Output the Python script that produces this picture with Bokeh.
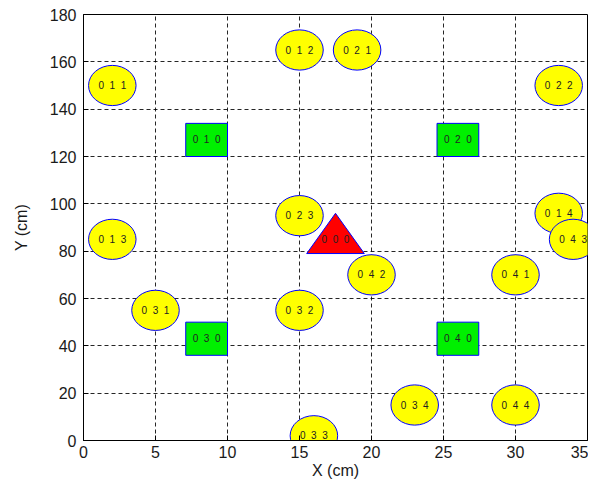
from bokeh.plotting import figure
from bokeh.models import FixedTicker
from bokeh.core.properties import value
from bokeh.embed import file_html
from bokeh.resources import INLINE

# ---- data ----
ell_names = ["011", "012", "013", "014", "021", "022", "023", "031",
             "032", "033", "034", "041", "042", "043", "044"]
ell_x = [2, 15, 2, 33, 19, 33, 15, 5, 15, 16, 23, 30, 20, 34, 30]
ell_y = [150, 165, 85, 96, 165, 150, 95, 55, 55, 2, 15, 70, 70, 85, 15]

sq_names = ["010", "020", "030", "040"]
sq_x = [8.55, 26, 8.55, 26]
sq_y = [127, 127, 43, 43]

tri_names = ["000"]
tri_x = [17.5]
tri_y = [85]

x_ticks = [0, 5, 10, 15, 20, 25, 30, 35]
y_ticks = [0, 20, 40, 60, 80, 100, 120, 140, 160, 180]

FONT = "Liberation Sans"
TXT = "#1a1a1a"

# layout (pixels)
W, H = 588, 481
LEFT, RIGHT, TOP, BOTTOM = 83, 1, 14, 40


def spaced(s):
    return "\u00a0\u00a0".join(list(s))


p = figure(width=W, height=H, output_backend="svg", toolbar_location=None,
           x_range=(0, 35), y_range=(0, 180),
           min_border_left=LEFT, min_border_right=RIGHT, min_border_top=TOP,
           min_border_bottom=BOTTOM)
p.background_fill_color = "white"
p.border_fill_color = "white"
p.outline_line_color = "black"
p.outline_line_width = 1

p.xaxis.ticker = FixedTicker(ticks=x_ticks)
p.yaxis.ticker = FixedTicker(ticks=y_ticks)
p.xaxis.minor_tick_line_color = None
p.yaxis.minor_tick_line_color = None
for ax in (p.xaxis, p.yaxis):
    ax.major_tick_in = 5
    ax.major_tick_out = 0
    ax.major_tick_line_color = "black"
    ax.axis_line_color = "black"
    ax.major_label_text_font = FONT
    ax.major_label_text_font_size = "16px"
    ax.major_label_text_color = TXT
    ax.axis_label_text_font = FONT
    ax.axis_label_text_font_size = "16px"
    ax.axis_label_text_font_style = "normal"
    ax.axis_label_text_color = TXT
p.xaxis.major_label_standoff = 5
p.xaxis.axis_label_standoff = 1
p.yaxis.major_label_standoff = 7
p.yaxis.axis_label_standoff = 17
p.xaxis.axis_label = "X (cm)"
p.yaxis.axis_label = "Y (cm)"

p.xgrid.ticker = FixedTicker(ticks=x_ticks)
p.ygrid.ticker = FixedTicker(ticks=y_ticks)
for g in (p.xgrid, p.ygrid):
    g.grid_line_color = "black"
    g.grid_line_alpha = 0.85
    g.grid_line_dash = "4 3"
    g.grid_line_width = 1

# squares
p.rect(sq_x, sq_y, width=2.9, height=14, fill_color="#00f000",
       line_color="#0000ff", line_width=1)

# triangle
for cx, cy in zip(tri_x, tri_y):
    p.patch([cx - 2.0, cx, cx + 2.0], [cy - 6, cy + 11, cy - 6],
            fill_color="#ff0000", line_color="#0000ff", line_width=1)

# ellipses
p.ellipse(ell_x, ell_y, width=3.3, height=17, fill_color="#ffff00",
          line_color="#0000ff", line_width=1)

# labels
all_names = sq_names + tri_names + ell_names
all_x = sq_x + tri_x + ell_x
all_y = sq_y + tri_y + ell_y
p.text(all_x, all_y, text=[spaced(n) for n in all_names],
       text_font=value(FONT), text_font_size="10px", text_color="#222222",
       text_align="center", text_baseline="middle", x_offset=0)

open("out.html", "w").write(file_html(p, INLINE))
